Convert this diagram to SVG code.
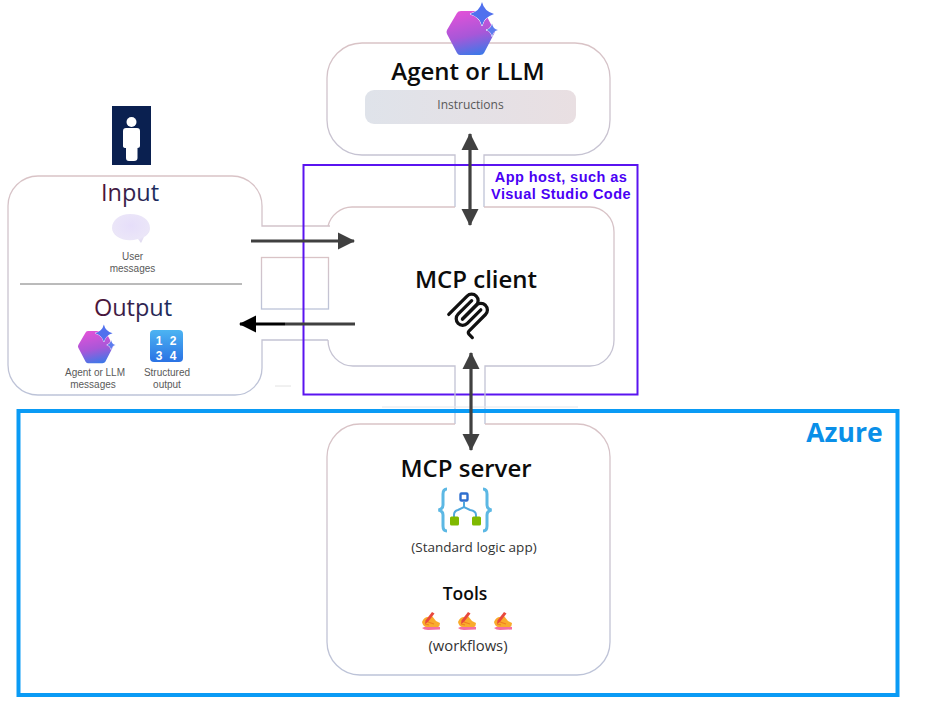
<svg xmlns="http://www.w3.org/2000/svg" width="936" height="701" viewBox="0 0 936 701">
<style>
text{font-family:"Open Sans","Noto Sans","Liberation Sans",sans-serif;text-anchor:middle}
.outline{fill:none;stroke:url(#edge);stroke-width:1.3}
.title{font-size:24px;font-weight:600;fill:#0c0c0c}
.io{font-size:23.500px;font-weight:500;fill:url(#ioText)}
.small{font-family:"Liberation Sans",Arial,sans-serif;font-size:10px;fill:#5a5a5a}
.host{font-family:"Liberation Sans",Arial,sans-serif;font-size:14.500px;font-weight:700;letter-spacing:.45px;fill:#4a00f5}
.digits{font-family:"Liberation Sans",Arial,sans-serif;font-size:12px;font-weight:700;fill:#fff}
.conn{fill:none;stroke:#404040;stroke-width:3.200}
</style>
<defs>
<linearGradient id="edge" x1="0" y1="0" x2="0" y2="1"><stop offset="0" stop-color="#d9c3c6"/><stop offset="1" stop-color="#bcc3d8"/></linearGradient>
<linearGradient id="ioText" x1="0" y1="0" x2="1" y2="0"><stop offset="0" stop-color="#4f1238"/><stop offset="1" stop-color="#1c2a60"/></linearGradient>
<linearGradient id="pill" x1="0" y1="0" x2="1" y2="0"><stop offset="0" stop-color="#dfe3ea"/><stop offset="1" stop-color="#e9dfe2"/></linearGradient>
<linearGradient id="hexFill" x1="0.35" y1="0" x2="0.6" y2="1"><stop offset="0" stop-color="#e052d8"/><stop offset="0.55" stop-color="#a857d8"/><stop offset="1" stop-color="#3f78e8"/></linearGradient>
<linearGradient id="numFill" x1="0" y1="0" x2="0" y2="1"><stop offset="0" stop-color="#4cb4f2"/><stop offset="1" stop-color="#2a72e4"/></linearGradient>
<radialGradient id="bubble" cx="0.5" cy="0.4" r="0.7"><stop offset="0" stop-color="#e6defa"/><stop offset="0.7" stop-color="#ebe6f8"/><stop offset="1" stop-color="#d8d2ea"/></radialGradient>
<marker id="head" markerUnits="userSpaceOnUse" markerWidth="18" markerHeight="18" refX="16" refY="9" orient="auto-start-reverse"><path d="M0 0.500L17 9L0 17.500Z" fill="#404040"/></marker>
<marker id="headBlack" markerUnits="userSpaceOnUse" markerWidth="18" markerHeight="18" refX="16" refY="9" orient="auto-start-reverse"><path d="M0 0.500L17 9L0 17.500Z" fill="#000"/></marker>
<g id="hex">
<path d="M461 11H484L495 32L484 53Q483 55 480 55H460Q458 55 457 53L447 34Q446 32 447 30L457 13Q458 11 461 11Z" fill="url(#hexFill)"/>
<path d="M482 2Q484 11 494 14Q484 17 482 26Q480 17 470 14Q480 11 482 2Z" fill="#5070ee" stroke="#fff" stroke-width="1" paint-order="stroke"/>
<path d="M492 23.500Q493 29 498 30Q493 31 492 36.500Q491 31 486 30Q491 29 492 23.500Z" fill="#5c7cee" stroke="#fff" stroke-width="1" paint-order="stroke"/>
</g>
<g id="hand">
<path d="M-9 7Q-4 4 4 5L9 6L9 8.500L-3 9Q-7 9 -9 7Z" fill="#f56ea0"/>
<path d="M-9 1Q-7 -4 -3 -4L1 -5L5 0L9 2Q9 5 7 6H-4Q-8 6 -9 1Z" fill="#f9ac2c"/>
<path d="M-3 1L0 2L3 3M-6 3L-2 4" stroke="#ef7f22" stroke-width="1.200" fill="none"/>
<path d="M1 -9L3.500 -7.500L-3 1L-6 3L-5.500 -0.500Z" fill="#e8483c"/>
</g>
</defs>
<rect width="936" height="701" fill="#fff"/>

<g id="agent-or-llm">
<path class="outline" d="M455 207V155H362A35 35 0 0 1 327 120V78A35 35 0 0 1 362 43H575A35 35 0 0 1 610 78V120A35 35 0 0 1 575 155H484V207"/>
<use href="#hex"/>
<text class="title" x="468" y="80">Agent or LLM</text>
<rect x="365" y="90" width="211" height="34" rx="9" fill="url(#pill)"/>
<text x="470.500" y="109" font-size="12" fill="#585858">Instructions</text>
</g>

<g id="user">
<rect x="112" y="106" width="39" height="59" fill="#0a2050"/>
<circle cx="131.500" cy="122" r="5" fill="#fff"/>
<path d="M126 128H137Q140 128 140 131V146Q140 148 137.500 148V158Q137.500 161 134 161H129Q126 161 126 158V148Q123 148 123 146V131Q123 128 126 128Z" fill="#fff"/>
</g>

<g id="input-output">
<path class="outline" d="M330 226H262V206A30 30 0 0 0 232 176H38A30 30 0 0 0 8 206V365A30 30 0 0 0 38 395H235A27 27 0 0 0 262 368V340H328"/>
<rect class="outline" x="261.500" y="257.500" width="67" height="51.500"/>
<text class="io" x="130" y="201">Input</text>
<path d="M130 214C142 214 150 220 150 228C150 233 146 236 144 237L141 243L138 239C124 243 112 236 112 228C112 220 120 214 130 214Z" fill="url(#bubble)"/>
<text class="small" x="132.500" y="260">User</text>
<text class="small" x="132.500" y="272">messages</text>
<path d="M20 284H242" stroke="#777" stroke-width="1" fill="none"/>
<text class="io" x="133" y="316">Output</text>
<use href="#hex" transform="translate(-248 323) scale(.73)"/>
<text class="small" x="95" y="375.500">Agent or LLM</text>
<text class="small" x="93" y="387.500">messages</text>
<rect x="150" y="330" width="33" height="32" rx="4" fill="url(#numFill)"/>
<text class="digits" x="159" y="345">1</text>
<text class="digits" x="173" y="345">2</text>
<text class="digits" x="159" y="359.500">3</text>
<text class="digits" x="173" y="359.500">4</text>
<text class="small" x="167" y="375.500">Structured</text>
<text class="small" x="167" y="387.500">output</text>
<path d="M275 386H291" stroke="#e2e2e2" stroke-width="1"/>
</g>

<g id="app-host">
<rect x="303.500" y="165" width="334" height="229.500" fill="none" stroke="#5a14f0" stroke-width="2"/>
<text class="host" x="561" y="181.500">App host, such as</text>
<text class="host" x="561" y="198.500">Visual Studio Code</text>
</g>

<g id="mcp-client">
<path class="outline" d="M328 226A25 25 0 0 1 352 207H455M484 207H590A24 25 0 0 1 614 232V340A24 26 0 0 1 590 366H485V424M455 424V366H353A25 26 0 0 1 328 340"/>
<text class="title" x="476" y="288">MCP client</text>
<g transform="translate(442 288) scale(.27)" fill="none" stroke="#111" stroke-width="12" stroke-linecap="round">
<path d="M25 97.900L92.900 30C102.300 20.600 117.500 20.600 126.800 30C136.200 39.300 136.200 54.500 126.800 63.900L75.600 115.200"/>
<path d="M76.300 114.500L126.800 63.900C136.200 54.500 151.400 54.500 160.800 63.900L161.100 64.300C170.500 73.600 170.500 88.800 161.100 98.200L99.700 159.600C96.600 162.700 96.600 167.800 99.700 170.900L112.300 183.500"/>
<path d="M109.900 46.900L59.600 97.100C50.300 106.500 50.300 121.700 59.600 131.100C69 140.500 84.200 140.500 93.600 131.100L143.800 80.900"/>
</g>
</g>

<g id="azure">
<rect x="18.500" y="411" width="879" height="284" fill="none" stroke="#0a9bf5" stroke-width="4"/>
<text x="844.500" y="442" font-size="26.500" font-weight="700" fill="#0a8fe8">Azure</text>
<path d="M382 407H578" stroke="#e4e6ea" stroke-width="1"/>
</g>

<g id="mcp-server">
<path class="outline" d="M455 424H360A33 33 0 0 0 327 457V642A33 33 0 0 0 360 675H577A33 33 0 0 0 610 642V457A33 33 0 0 0 577 424H485"/>
<text class="title" x="466" y="477">MCP server</text>
<path d="M447 489Q443 489 443 494V505Q443 509 438.500 510Q443 511 443 515V526Q443 531 447 531M483 489Q487 489 487 494V505Q487 509 491.500 510Q487 511 487 515V526Q487 531 483 531" fill="none" stroke="#5cb8e4" stroke-width="3"/>
<path d="M464 502V507M454 517V515Q454 511 458 510L464 507L470 510Q476 511 476 515V517" fill="none" stroke="#4fa8de" stroke-width="2"/>
<rect x="460.500" y="493.500" width="7" height="7" rx="1" fill="#fff" stroke="#2f6fcf" stroke-width="2.400"/>
<rect x="450" y="516.500" width="9" height="9" rx="1.500" fill="#7fb900"/>
<rect x="472" y="516.500" width="9" height="9" rx="1.500" fill="#7fb900"/>
<text x="474" y="552" font-size="13.500" fill="#333">(Standard logic app)</text>
<text x="465" y="600" font-size="17.500" font-weight="600" fill="#0c0c0c">Tools</text>
<use href="#hand" x="431" y="621"/>
<use href="#hand" x="467" y="621"/>
<use href="#hand" x="503" y="621"/>
<text x="468" y="651" font-size="14.800" fill="#333">(workflows)</text>
</g>

<g id="connectors">
<path class="conn" d="M470 134V225" marker-start="url(#head)" marker-end="url(#head)"/>
<path class="conn" d="M251 241H354" marker-end="url(#head)"/>
<path class="conn" d="M355 324H285"/>
<path d="M285 324H240" fill="none" stroke="#000" stroke-width="3.200" marker-end="url(#headBlack)"/>
<path class="conn" d="M471 353V450" marker-start="url(#head)" marker-end="url(#head)"/>
</g>
</svg>
